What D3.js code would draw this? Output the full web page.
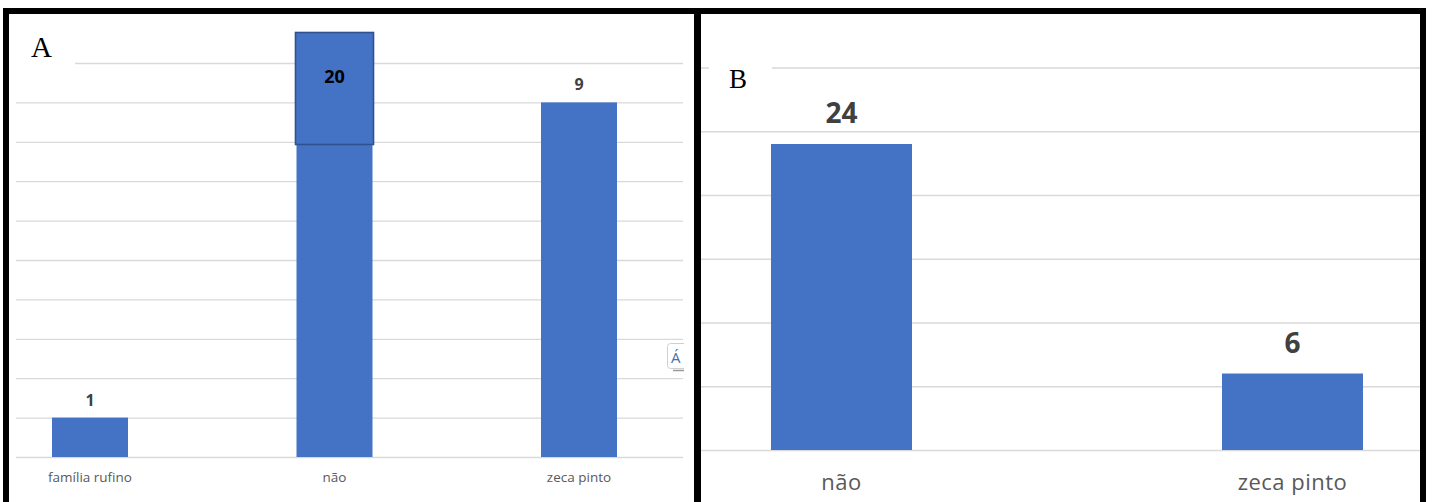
<!DOCTYPE html>
<html>
<head>
<meta charset="utf-8">
<script src="https://cdn.jsdelivr.net/npm/d3@7/dist/d3.min.js"></script>
<style>
  html, body { margin: 0; padding: 0; background: #fff; }
  svg { display: block; }
</style>
</head>
<body>
<svg id="fig" width="1434" height="502"></svg>
<script>
// Panel A: responses with three categories
const categoriesA = ["família rufino", "não", "zeca pinto"];
const valuesA = [1, 20, 9];
const gridTicksA = d3.range(0, 11, 1);

// Panel B: responses with two categories
const categoriesB = ["não", "zeca pinto"];
const valuesB = [24, 6];
const gridTicksB = d3.range(0, 31, 5);

const BAR = "#4472C4";
const GRID = "#d9d9d9";
const svg = d3.select("#fig");

svg.append("rect").attr("width", 1434).attr("height", 502).attr("fill", "#fff");

// band scale whose bands are centred on c0..cN with given width
function centredBand(domain, c0, step, w) {
  const pi = 1 - w / step;
  return d3.scaleBand()
    .domain(domain)
    .range([c0 - step / 2, c0 + step * (domain.length - 0.5)])
    .paddingInner(pi)
    .paddingOuter(pi / 2);
}

/* ---------------- Panel A ---------------- */
const gA = svg.append("g");
const xA = centredBand(categoriesA, 90, 244.5, 76);
const yA = d3.scaleLinear().domain([0, 10]).range([457, 63]);

gA.append("clipPath").attr("id", "clipA")
  .append("rect").attr("x", 10).attr("y", 32).attr("width", 680).attr("height", 460);

gA.append("g")
  .attr("transform", "translate(16,0)")
  .call(d3.axisLeft(yA).tickValues(gridTicksA).tickSize(-(683 - 16)).tickFormat(""))
  .call(g => g.select(".domain").remove())
  .call(g => g.selectAll("line").attr("stroke", GRID).attr("stroke-width", 1.3));

// white patch behind the panel letter
gA.append("rect").attr("x", 10).attr("y", 20).attr("width", 65).attr("height", 60).attr("fill", "#fff");
gA.append("text").attr("x", 31).attr("y", 57)
  .attr("font-family", "Liberation Serif, Times New Roman, serif")
  .attr("font-size", 29).attr("fill", "#000").text("A");

gA.append("g").attr("clip-path", "url(#clipA)")
  .selectAll("rect").data(valuesA).join("rect")
  .attr("x", (d, i) => xA(categoriesA[i]))
  .attr("width", xA.bandwidth())
  .attr("y", d => yA(d))
  .attr("height", d => yA(0) - yA(d))
  .attr("fill", BAR);

// call-out box over the clipped tall bar
const iBig = valuesA.indexOf(d3.max(valuesA));
gA.append("rect")
  .attr("x", xA(categoriesA[iBig]) - 1)
  .attr("y", 32.5)
  .attr("width", xA.bandwidth() + 2)
  .attr("height", 112)
  .attr("fill", BAR).attr("stroke", "#2F528F").attr("stroke-width", 1.6);

gA.selectAll("text.val").data(valuesA).join("text")
  .attr("class", "val")
  .attr("x", (d, i) => xA(categoriesA[i]) + xA.bandwidth() / 2)
  .attr("y", (d, i) => i === iBig ? 83 : yA(d) - 12)
  .attr("text-anchor", "middle")
  .attr("font-family", "Open Sans, sans-serif")
  .attr("font-weight", "bold")
  .attr("font-size", (d, i) => i === iBig ? 18 : 16)
  .attr("fill", (d, i) => i === iBig ? "#000" : "#404040")
  .text(d => d);

gA.selectAll("text.cat").data(categoriesA).join("text")
  .attr("class", "cat")
  .attr("x", d => xA(d) + xA.bandwidth() / 2)
  .attr("y", 482)
  .attr("text-anchor", "middle")
  .attr("font-family", "Open Sans, sans-serif")
  .attr("font-size", 13.5).attr("fill", "#595959")
  .text(d => d);

// partly hidden chart-element button at the right edge
const btn = gA.append("g");
btn.append("clipPath").attr("id", "clipBtn")
  .append("rect").attr("x", 660).attr("y", 330).attr("width", 24).attr("height", 50);
const bg = btn.append("g").attr("clip-path", "url(#clipBtn)");
bg.append("rect").attr("x", 667.5).attr("y", 343.5).attr("width", 24).attr("height", 25).attr("rx", 3)
  .attr("fill", "#fff").attr("stroke", "#d0d0d0");
bg.append("text").attr("x", 671).attr("y", 363)
  .attr("font-family", "Open Sans, sans-serif").attr("font-size", 15)
  .attr("fill", "#4a6fa5").text("Á");
bg.append("line").attr("x1", 673).attr("x2", 684).attr("y1", 370.5).attr("y2", 370.5)
  .attr("stroke", "#999").attr("stroke-width", 1.5);

/* ---------------- Panel B ---------------- */
const gB = svg.append("g");
const xB = centredBand(categoriesB, 841.5, 451, 141);
const yB = d3.scaleLinear().domain([0, 30]).range([450, 67.5]);

gB.append("g")
  .attr("transform", "translate(700,0)")
  .call(d3.axisLeft(yB).tickValues(gridTicksB).tickSize(-(1420 - 700)).tickFormat(""))
  .call(g => g.select(".domain").remove())
  .call(g => g.selectAll("line").attr("stroke", GRID).attr("stroke-width", 1.6));

gB.append("rect").attr("x", 709).attr("y", 50).attr("width", 63).attr("height", 45).attr("fill", "#fff");
gB.append("text").attr("x", 729).attr("y", 88)
  .attr("font-family", "Liberation Serif, Times New Roman, serif")
  .attr("font-size", 27).attr("fill", "#000").text("B");

gB.selectAll("rect.bar").data(valuesB).join("rect")
  .attr("class", "bar")
  .attr("x", (d, i) => xB(categoriesB[i]))
  .attr("width", xB.bandwidth())
  .attr("y", d => yB(d))
  .attr("height", d => yB(0) - yB(d))
  .attr("fill", BAR);

gB.selectAll("text.val").data(valuesB).join("text")
  .attr("class", "val")
  .attr("x", (d, i) => xB(categoriesB[i]) + xB.bandwidth() / 2)
  .attr("y", d => yB(d) - 21)
  .attr("text-anchor", "middle")
  .attr("font-family", "Open Sans, sans-serif")
  .attr("font-weight", "bold").attr("font-size", 28)
  .attr("fill", "#404040")
  .text(d => d);

gB.selectAll("text.cat").data(categoriesB).join("text")
  .attr("class", "cat")
  .attr("x", d => xB(d) + xB.bandwidth() / 2)
  .attr("y", 490)
  .attr("text-anchor", "middle")
  .attr("font-family", "Open Sans, sans-serif")
  .attr("font-size", 22).attr("letter-spacing", 0.5).attr("fill", "#595959")
  .text(d => d);

/* ---------------- Frame ---------------- */
const frame = svg.append("g").attr("fill", "#000");
frame.append("rect").attr("x", 3).attr("y", 8).attr("width", 1423).attr("height", 6);   // top
frame.append("rect").attr("x", 3).attr("y", 8).attr("width", 6).attr("height", 494);    // left
frame.append("rect").attr("x", 694).attr("y", 8).attr("width", 7).attr("height", 494);  // divider
frame.append("rect").attr("x", 1420).attr("y", 8).attr("width", 6).attr("height", 494); // right
</script>
</body>
</html>
